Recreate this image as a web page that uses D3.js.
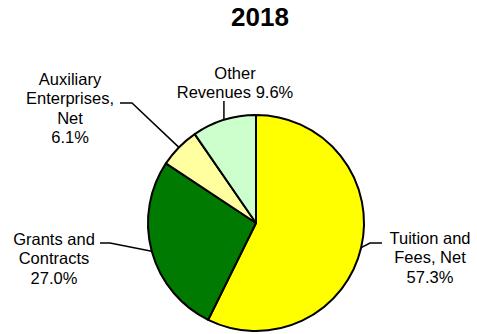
<!DOCTYPE html>
<html>
<head>
<meta charset="utf-8">
<script src="https://cdn.jsdelivr.net/npm/d3@7"></script>
<style>
  html, body { margin: 0; padding: 0; background: #fff; }
  svg { display: block; }
  text { font-family: Arial, "Liberation Sans", sans-serif; fill: #000; }
</style>
</head>
<body>
<svg id="chart" width="477" height="334"></svg>
<script>
// Revenue sources, 2018 (share of total, %)
const categories = ["Tuition and Fees, Net", "Grants and Contracts", "Auxiliary Enterprises, Net", "Other Revenues"];
const shares = [57.3, 27.0, 6.1, 9.6];
const labelLines = [
  ["Tuition and", "Fees, Net", "57.3%"],
  ["Grants and", "Contracts", "27.0%"],
  ["Auxiliary", "Enterprises,", "Net", "6.1%"],
  ["Other", "Revenues 9.6%"]
];
const title = "2018";

const colors = ["#ffff00", "#007a00", "#ffffa0", "#ccffcc"];

const svg = d3.select("#chart");
const cx = 256, cy = 223, r = 108;

svg.append("text")
  .attr("x", 260).attr("y", 26)
  .attr("text-anchor", "middle")
  .style("font-size", "26px").style("font-weight", "bold")
  .text(title);

const data = categories.map((c, i) => ({ name: c, value: shares[i], lines: labelLines[i], color: colors[i] }));

const pie = d3.pie().sort(null).value(d => d.value);
const arcs = pie(data);
const arc = d3.arc().innerRadius(0).outerRadius(r);

const g = svg.append("g").attr("transform", `translate(${cx},${cy})`);
g.selectAll("path.slice")
  .data(arcs)
  .join("path")
  .attr("class", "slice")
  .attr("d", arc)
  .attr("fill", d => d.data.color)
  .attr("stroke", "#000")
  .attr("stroke-width", 2)
  .attr("stroke-linejoin", "round");

// Leader-line elbows and label blocks (relative to the pie's centre)
const layout = [
  { elbow: [114, 20], end: [126, 20], tx: 174, ty: 21, anchor: "middle" },
  { elbow: [-146, 20], end: [-156, 20], tx: -202, ty: 22, anchor: "middle" },
  { elbow: [-124, -120], end: [-136, -120], tx: -186, ty: -138, anchor: "middle" },
  { elbow: null, end: [-32, -122], tx: -21, ty: -144, anchor: "middle" }
];
const lineH = 19.3;

arcs.forEach((a, i) => {
  const mid = (a.startAngle + a.endAngle) / 2;
  const p0 = [r * Math.sin(mid), -r * Math.cos(mid)];
  const L = layout[i];
  const pts = [p0];
  if (L.elbow) pts.push(L.elbow);
  pts.push(L.end);
  if (!L.elbow) pts[1] = [p0[0], L.end[1]];
  g.append("path")
    .attr("d", d3.line()(pts))
    .attr("fill", "none")
    .attr("stroke", "#000")
    .attr("stroke-width", 1.5);

  const t = g.append("text")
    .attr("text-anchor", L.anchor)
    .style("font-size", "16.5px");
  a.data.lines.forEach((ln, k) => {
    t.append("tspan")
      .attr("x", L.tx)
      .attr("y", L.ty + k * lineH)
      .text(ln);
  });
});
</script>
</body>
</html>
